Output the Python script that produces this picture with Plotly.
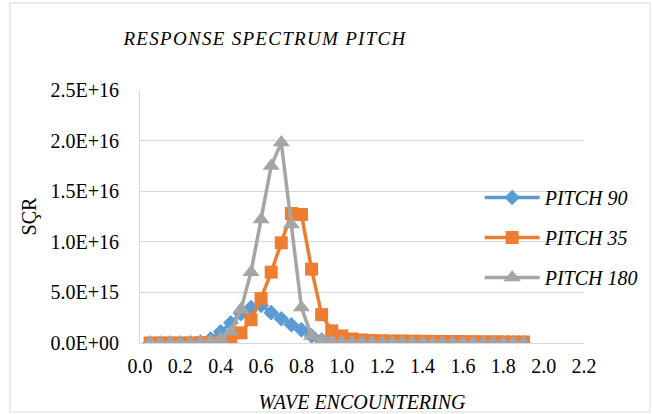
import plotly.graph_objects as go

wave_enc = [0.05, 0.10, 0.15, 0.20, 0.25, 0.30, 0.35, 0.40, 0.45, 0.50,
            0.55, 0.60, 0.65, 0.70, 0.75, 0.80, 0.85, 0.90, 0.95, 1.00,
            1.05, 1.10, 1.15, 1.20, 1.25, 1.30, 1.35, 1.40, 1.45, 1.50,
            1.55, 1.60, 1.65, 1.70, 1.75, 1.80, 1.85, 1.90]

pitch_90 = [0, 0, 0, 0, 0.02e15, 0.1e15, 0.4e15, 1.1e15, 2.0e15, 2.9e15,
            3.5e15, 3.7e15, 3.0e15, 2.4e15, 1.8e15, 1.3e15, 0.7e15, 0.3e15, 0.1e15, 0.06e15,
            0.04e15, 0.03e15, 0.03e15, 0.02e15, 0.02e15, 0.02e15, 0.01e15, 0.01e15, 0.01e15, 0.01e15,
            0.01e15, 0.01e15, 0.01e15, 0.01e15, 0.01e15, 0.01e15, 0.01e15, 0.01e15]

pitch_35 = [0, 0, 0, 0, 0, 0.02e15, 0.05e15, 0.1e15, 0.3e15, 1.0e15,
            2.3e15, 4.4e15, 7.0e15, 9.9e15, 12.8e15, 12.7e15, 7.3e15, 2.8e15, 1.2e15, 0.7e15,
            0.4e15, 0.3e15, 0.25e15, 0.22e15, 0.2e15, 0.2e15, 0.18e15, 0.17e15, 0.16e15, 0.15e15,
            0.14e15, 0.14e15, 0.13e15, 0.12e15, 0.12e15, 0.11e15, 0.1e15, 0.1e15]

pitch_180 = [0, 0, 0, 0, 0, 0.05e15, 0.15e15, 0.4e15, 1.1e15, 3.3e15,
             7.0e15, 12.2e15, 17.5e15, 19.8e15, 11.7e15, 3.5e15, 0.7e15, 0.25e15, 0.12e15, 0.08e15,
             0.05e15, 0.04e15, 0.03e15, 0.03e15, 0.02e15, 0.02e15, 0.02e15, 0.02e15, 0.01e15, 0.01e15,
             0.01e15, 0.01e15, 0.01e15, 0.01e15, 0.01e15, 0.01e15, 0.01e15, 0.01e15]

y_tick_vals = [0, 5e15, 1e16, 1.5e16, 2e16, 2.5e16]
y_tick_text = ["0.0E+00", "5.0E+15", "1.0E+16", "1.5E+16", "2.0E+16", "2.5E+16"]

FONT = "Liberation Serif"
GRID = "#d9d9d9"

fig = go.Figure()
series = [
    ("PITCH 90", pitch_90, "#5B9BD5", "diamond", 12),
    ("PITCH 35", pitch_35, "#ED7D31", "square", 13),
    ("PITCH 180", pitch_180, "#A5A5A5", "triangle-up", 15),
]
for i, (name, vals, color, sym, size) in enumerate(series):
    fig.add_trace(go.Scatter(
        x=wave_enc, y=vals, name=f"<i>{name}</i>", mode="lines+markers",
        line=dict(color=color, width=3.5),
        marker=dict(symbol=sym, size=size, color=color, line=dict(width=0)),
        legendgroup=f"g{i}",
    ))

fig.update_layout(
    width=653, height=414,
    margin=dict(l=140, r=69, t=90, b=71, autoexpand=False),
    paper_bgcolor="white", plot_bgcolor="white",
    font=dict(family=FONT, size=20, color="#000000"),
    title=dict(
        text='<i><span style="letter-spacing:1.3px">RESPONSE SPECTRUM PITCH</span></i>',
        x=265 / 653, xref="container", xanchor="center",
        y=1 - 38 / 414, yref="container", yanchor="middle",
        font=dict(family=FONT, size=19, color="#000000"),
    ),
    xaxis=dict(
        range=[0, 2.2], dtick=0.2, tick0=0, tickformat=".1f",
        showgrid=False, zeroline=False, automargin=False,
        showline=True, linecolor=GRID, linewidth=1,
        ticks="", ticklabelstandoff=5,
        title=dict(text="<i>WAVE ENCOUNTERING</i>", standoff=18,
                   font=dict(family=FONT, size=20)),
        tickfont=dict(family=FONT, size=20),
    ),
    yaxis=dict(
        range=[0, 2.5e16], tickvals=y_tick_vals, ticktext=y_tick_text,
        showgrid=True, gridcolor=GRID, gridwidth=1, zeroline=False, automargin=False,
        showline=True, linecolor=GRID, linewidth=1,
        ticks="", ticklabelstandoff=16,
        title=dict(text="SÇR", standoff=8, font=dict(family=FONT, size=20)),
        tickfont=dict(family=FONT, size=20),
    ),
    legend=dict(
        x=0.765, xanchor="left", y=0.652, yanchor="top",
        bgcolor="rgba(255,255,255,0)", borderwidth=0,
        font=dict(family=FONT, size=20),
        tracegroupgap=11, itemwidth=55,
    ),
    shapes=[dict(type="rect", xref="paper", yref="paper",
                 x0=(10 - 140) / 444, x1=(650 - 140) / 444,
                 y0=(343 - 412) / 253, y1=(343 - 3) / 253,
                 line=dict(color=GRID, width=1), fillcolor="rgba(0,0,0,0)", layer="below")],
)

fig.write_html("out.html")
